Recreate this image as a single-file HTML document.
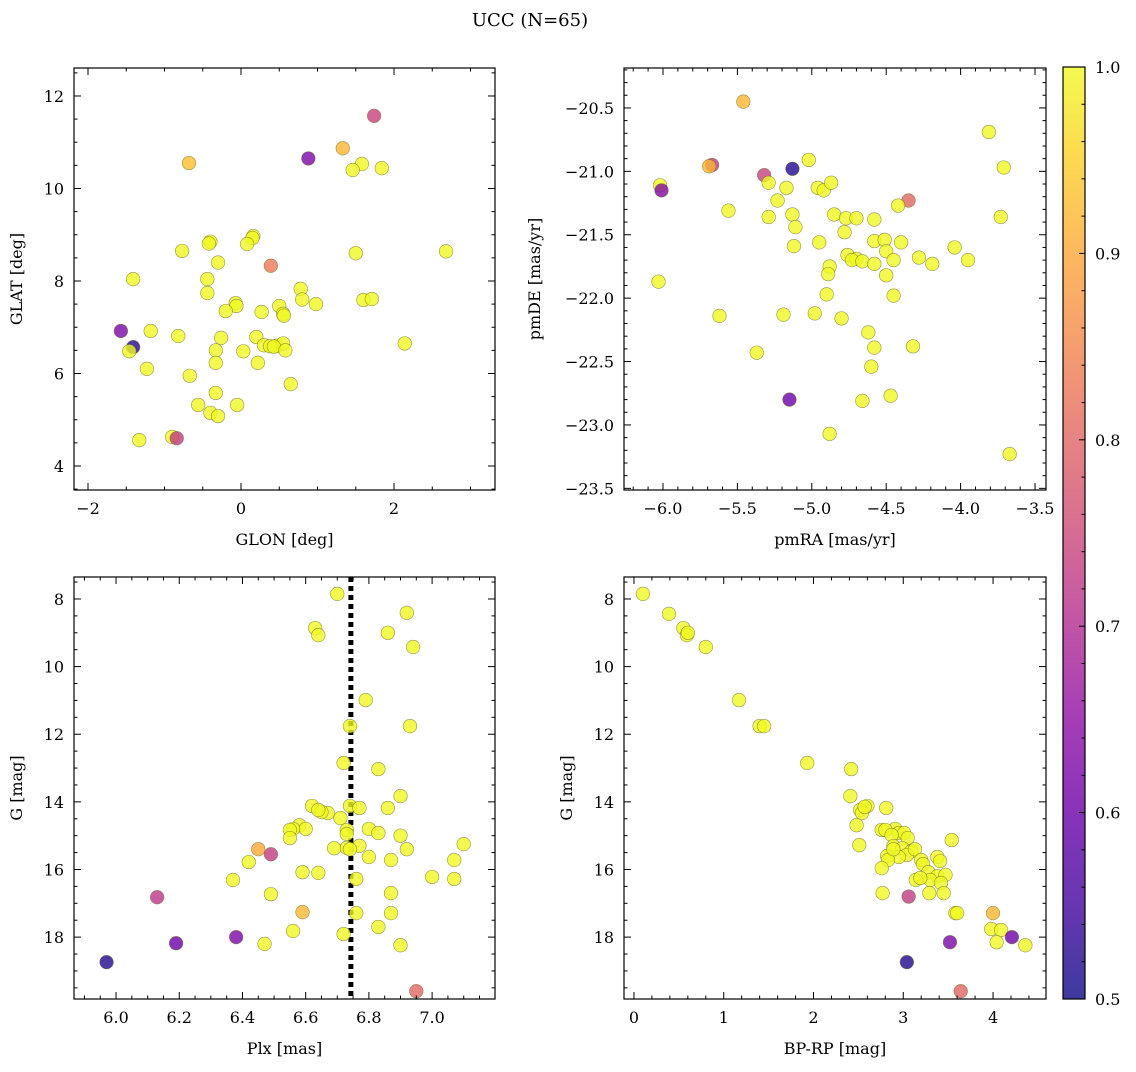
<!DOCTYPE html>
<html><head><meta charset="utf-8">
<style>
html,body{margin:0;padding:0;background:#fff;}
svg text{font-family:"DejaVu Serif","Liberation Serif",serif;fill:#000;}
</style></head>
<body>
<svg id="fig" width="1136" height="1067" viewBox="0 0 1136 1067" xmlns="http://www.w3.org/2000/svg">
<defs>
<linearGradient id="plasma" x1="0" y1="1" x2="0" y2="0">
<stop offset="0" stop-color="#0d0887"/><stop offset="0.1" stop-color="#41049d"/><stop offset="0.2" stop-color="#6a00a8"/><stop offset="0.3" stop-color="#8f0da4"/><stop offset="0.4" stop-color="#b12a90"/><stop offset="0.5" stop-color="#cc4778"/><stop offset="0.6" stop-color="#e16462"/><stop offset="0.7" stop-color="#f2844b"/><stop offset="0.8" stop-color="#fca636"/><stop offset="0.9" stop-color="#fcce25"/><stop offset="1" stop-color="#f0f921"/>
</linearGradient>
</defs>
<text x="530" y="26" font-size="18" text-anchor="middle">UCC (N=65)</text>
</svg>
<script>
// ---- data: Top-left (GLON vs GLAT) ----
const glonX=[1.74,1.33,-0.68,0.88,1.58,1.46,1.84,0.16,0.15,-0.4,-0.42,0.08,-0.77,2.68,1.5,-0.3,0.39,-1.41,-0.44,0.78,0.8,1.6,1.71,-0.44,-0.07,-0.06,0.98,0.5,0.27,-0.2,0.55,0.56,-1.57,-1.18,-0.82,-0.26,0.2,0.3,0.47,0.55,0.38,0.43,0.58,-1.41,-1.46,-0.33,0.03,2.14,0.22,-0.33,-1.23,-0.67,0.65,-0.33,-0.56,-0.05,-0.4,-0.3,-0.9,-0.84,-1.33];
const glatY=[11.57,10.87,10.55,10.65,10.53,10.4,10.44,8.97,8.93,8.85,8.81,8.8,8.65,8.64,8.6,8.4,8.33,8.04,8.04,7.83,7.6,7.59,7.61,7.74,7.52,7.46,7.5,7.46,7.33,7.35,7.29,7.25,6.92,6.92,6.81,6.77,6.79,6.61,6.6,6.65,6.59,6.58,6.5,6.57,6.48,6.5,6.48,6.65,6.23,6.23,6.1,5.95,5.77,5.58,5.32,5.32,5.15,5.08,4.63,4.6,4.56];
const glatC=[0.74,0.92,0.93,0.62,1,1,1,1,1,1,1,1,1,1,1,1,0.83,1,1,1,1,1,1,1,1,1,1,1,1,1,1,1,0.62,1,1,1,1,1,1,1,1,1,1,0.52,1,1,1,1,1,1,1,1,1,1,1,1,1,1,1,0.73,1];
// ---- Top-right (pmRA vs pmDE) ----
const pmraX=[-5.46,-3.81,-6.02,-6.01,-5.67,-5.69,-5.13,-5.02,-5.32,-5.29,-3.71,-5.17,-4.96,-4.92,-4.87,-4.35,-4.42,-5.23,-5.56,-5.29,-5.13,-4.85,-4.77,-4.7,-4.58,-3.73,-5.11,-4.78,-4.58,-4.51,-4.95,-4.4,-5.12,-4.04,-4.76,-4.7,-4.5,-4.28,-4.73,-4.66,-4.58,-4.45,-4.19,-3.95,-4.88,-4.5,-4.89,-4.9,-4.45,-6.03,-5.62,-5.19,-4.98,-4.8,-4.62,-4.58,-4.32,-5.37,-4.6,-5.15,-4.66,-4.47,-4.88,-3.67];
const pmdeY=[-20.45,-20.69,-21.11,-21.15,-20.95,-20.96,-20.98,-20.91,-21.03,-21.09,-20.97,-21.13,-21.13,-21.15,-21.09,-21.23,-21.27,-21.23,-21.31,-21.36,-21.34,-21.34,-21.37,-21.37,-21.38,-21.36,-21.44,-21.48,-21.55,-21.54,-21.56,-21.56,-21.59,-21.6,-21.66,-21.69,-21.63,-21.68,-21.7,-21.71,-21.73,-21.7,-21.73,-21.7,-21.75,-21.82,-21.81,-21.97,-21.98,-21.87,-22.14,-22.13,-22.12,-22.16,-22.27,-22.39,-22.38,-22.43,-22.54,-22.8,-22.81,-22.77,-23.07,-23.23];
const pmdeC=[0.92,1,1,0.63,0.73,0.92,0.52,1,0.74,1,1,1,1,1,1,0.8,1,1,1,1,1,1,1,1,1,1,1,1,1,1,1,1,1,1,1,1,1,1,1,1,1,1,1,1,1,1,1,1,1,1,1,1,1,1,1,1,1,1,1,0.6,1,1,1,1];
// ---- Bottom-left (Plx vs G) ----
const plxX=[6.70,6.92,6.63,6.64,6.86,6.94,6.79,6.74,6.93,6.72,6.83,6.90,6.62,6.74,6.77,6.86,6.67,6.65,6.64,6.71,6.58,6.60,6.56,6.80,6.73,6.83,6.55,6.73,6.90,6.55,7.10,6.77,6.73,6.45,6.49,6.69,6.74,6.92,6.80,6.87,6.42,7.07,6.59,6.64,7.00,6.76,7.07,6.37,6.49,6.87,6.13,6.59,6.87,6.76,6.56,6.83,6.72,6.38,6.19,6.47,6.90,5.97,6.95];
const gLeftY=[7.85,8.41,8.86,9.07,9.0,9.42,10.99,11.76,11.76,12.85,13.03,13.83,14.12,14.12,14.18,14.18,14.33,14.3,14.24,14.48,14.69,14.8,14.8,14.8,14.83,14.92,14.83,14.95,15.0,15.07,15.25,15.3,15.36,15.4,15.55,15.37,15.4,15.4,15.63,15.72,15.78,15.72,16.08,16.1,16.22,16.28,16.28,16.31,16.73,16.7,16.82,17.26,17.29,17.29,17.82,17.7,17.91,18.0,18.18,18.2,18.24,18.74,19.6];
const gLeftC=[1,1,1,1,1,1,1,1,1,1,1,1,1,1,1,1,1,1,1,1,1,1,1,1,1,1,1,1,1,1,1,1,1,0.9,0.73,1,1,1,1,1,1,1,1,1,1,1,1,1,1,1,0.72,0.92,1,1,1,1,1,0.62,0.6,1,1,0.52,0.8];
// ---- Bottom-right (BP-RP vs G) ----
const bprpX=[0.10,0.39,0.55,0.59,0.60,0.80,1.17,1.40,1.45,1.93,2.42,2.41,2.60,2.52,2.54,2.57,2.81,2.48,2.91,2.76,2.80,2.95,3.01,2.87,3.05,3.54,2.51,2.89,2.99,3.09,3.04,3.13,2.95,3.38,3.41,3.20,3.22,2.82,2.83,2.89,2.76,3.28,3.38,3.30,3.47,3.42,3.14,3.19,2.77,3.29,3.45,3.06,3.58,3.60,4.00,3.98,4.09,4.04,4.36,3.52,4.21,3.04,3.64];
const gRightY=[7.85,8.44,8.86,9.07,9.0,9.42,10.99,11.76,11.76,12.85,13.03,13.83,14.12,14.24,14.33,14.15,14.18,14.69,14.8,14.83,14.83,14.92,14.92,14.98,15.07,15.13,15.28,15.31,15.37,15.46,15.57,15.4,15.63,15.63,15.75,15.72,15.84,15.6,15.72,15.4,15.96,16.08,16.2,16.31,16.16,16.4,16.31,16.25,16.7,16.7,16.7,16.8,17.29,17.29,17.29,17.76,17.79,18.15,18.24,18.15,18.0,18.74,19.6];
const gRightC=[1,1,1,1,1,1,1,1,1,1,1,1,1,1,1,1,1,1,1,1,1,1,1,1,1,1,1,1,1,1,1,1,1,1,1,1,1,1,1,1,1,1,1,1,1,1,1,1,1,1,1,0.73,1,1,0.92,1,1,1,1,0.62,0.6,0.52,0.8];
const plxLine=6.743;
const cbTicks=[0.5,0.6,0.7,0.8,0.9,1.0];

const NS="http://www.w3.org/2000/svg";
const svg=document.getElementById('fig');
function mk(tag,attrs,parent){const e=document.createElementNS(NS,tag);for(const k in attrs)e.setAttribute(k,attrs[k]);(parent||svg).appendChild(e);return e;}
const stops=[[0,[13,8,135]],[0.1,[65,4,157]],[0.2,[106,0,168]],[0.3,[143,13,164]],[0.4,[177,42,144]],[0.5,[204,71,120]],[0.6,[225,100,98]],[0.7,[242,132,75]],[0.8,[252,166,54]],[0.9,[252,206,37]],[1,[240,249,33]]];
function plasma(c){let t=Math.max(0,Math.min(1,(c-0.5)/0.5));for(let i=0;i<stops.length-1;i++){const a=stops[i],b=stops[i+1];if(t<=b[0]){const f=(t-a[0])/(b[0]-a[0]);return 'rgb('+a[1].map((v,j)=>Math.round(v+(b[1][j]-v)*f)).join(',')+')';}}return 'rgb(240,249,33)';}
function fmt(v,d){return (v<0?'\u2212':'')+Math.abs(v).toFixed(d);}

function panel(o){
  const g=mk('g',{});
  
  
  const sx=v=>o.x0+(v-o.xmin)/(o.xmax-o.xmin)*(o.x1-o.x0);
  const sy=o.invert? v=>o.y0+(v-o.ymin)/(o.ymax-o.ymin)*(o.y1-o.y0) : v=>o.y1-(v-o.ymin)/(o.ymax-o.ymin)*(o.y1-o.y0);
  if(o.vline!==undefined){const l=mk('line',{x1:sx(o.vline),x2:sx(o.vline),y1:o.y0,y2:o.y1,stroke:'#000','stroke-width':5,'stroke-dasharray':'5,4'},g);
    
    }
  for(let i=0;i<o.xs.length;i++){
    const c=mk('circle',{cx:sx(o.xs[i]),cy:sy(o.ys[i]),r:6.8,fill:plasma(o.cs[i]),'fill-opacity':0.8,stroke:'#6b6b2a','stroke-opacity':0.7,'stroke-width':0.6},g);
    
    
  }
  const fr=mk('rect',{x:o.x0,y:o.y0,width:o.x1-o.x0,height:o.y1-o.y0,fill:'none',stroke:'#000','stroke-width':1.2},g);
  
  
  const eps=1e-6;
  for(let v=Math.ceil(o.xmin/o.xminor-eps)*o.xminor;v<=o.xmax+eps;v+=o.xminor){
    const major=Math.abs(v/o.xmajor-Math.round(v/o.xmajor))<1e-4;const L=major?7:3.5;const X=sx(v);
    mk('line',{x1:X,x2:X,y1:o.y1,y2:o.y1-L,stroke:'#000','stroke-width':1},g);
    mk('line',{x1:X,x2:X,y1:o.y0,y2:o.y0+L,stroke:'#000','stroke-width':1},g);
    if(major){const t=mk('text',{x:X,y:o.y1+24,'font-size':16,'text-anchor':'middle'},g);t.textContent=fmt(v,o.xd);
      
      }
  }
  for(let v=Math.ceil(o.ymin/o.yminor-eps)*o.yminor;v<=o.ymax+eps;v+=o.yminor){
    const major=Math.abs(v/o.ymajor-Math.round(v/o.ymajor))<1e-4;const L=major?7:3.5;const Y=sy(v);
    mk('line',{x1:o.x0,x2:o.x0+L,y1:Y,y2:Y,stroke:'#000','stroke-width':1},g);
    mk('line',{x1:o.x1,x2:o.x1-L,y1:Y,y2:Y,stroke:'#000','stroke-width':1},g);
    if(major){const t=mk('text',{x:o.x0-10,y:Y+6,'font-size':16,'text-anchor':'end'},g);t.textContent=fmt(v,o.yd);
      
      }
  }
  const xl=mk('text',{x:(o.x0+o.x1)/2,y:o.y1+55,'font-size':16,'text-anchor':'middle'},g);xl.textContent=o.xlabel;
  
  
  const yx=o.x0-o.ylabOff, yy=(o.y0+o.y1)/2;
  const yl=mk('text',{x:yx,y:yy,'font-size':16,'text-anchor':'middle',transform:'rotate(-90 '+yx+' '+yy+')'},g);yl.textContent=o.ylabel;
  
  
}

panel({name:'glon-glat-panel',x0:74,x1:495,y0:68,y1:490,xmin:-2.183,xmax:3.320,ymin:3.481,ymax:12.605,xmajor:2,xminor:0.5,ymajor:2,yminor:0.5,xd:0,yd:0,xs:glonX,ys:glatY,cs:glatC,xlabel:'GLON [deg]',ylabel:'GLAT [deg]',ylabOff:52});
panel({name:'pmra-pmde-panel',x0:624,x1:1046,y0:68,y1:490,xmin:-6.262,xmax:-3.426,ymin:-23.513,ymax:-20.185,xmajor:0.5,xminor:0.1,ymajor:0.5,yminor:0.1,xd:1,yd:1,xs:pmraX,ys:pmdeY,cs:pmdeC,xlabel:'pmRA [mas/yr]',ylabel:'pmDE [mas/yr]',ylabOff:84});
panel({name:'plx-g-panel',x0:74,x1:495,y0:577,y1:999,xmin:5.867,xmax:7.199,ymin:7.35,ymax:19.83,invert:true,xmajor:0.2,xminor:0.05,ymajor:2,yminor:0.5,xd:1,yd:0,xs:plxX,ys:gLeftY,cs:gLeftC,xlabel:'Plx [mas]',ylabel:'G [mag]',ylabOff:52,vline:plxLine});
panel({name:'bprp-g-panel',x0:624,x1:1046,y0:577,y1:999,xmin:-0.111,xmax:4.590,ymin:7.35,ymax:19.83,invert:true,xmajor:1,xminor:0.2,ymajor:2,yminor:0.5,xd:0,yd:0,xs:bprpX,ys:gRightY,cs:gRightC,xlabel:'BP-RP [mag]',ylabel:'G [mag]',ylabOff:52});

// colorbar
const cb=mk('g',{});


const cbx0=1063,cbx1=1085,cby0=67,cby1=999;
mk('rect',{x:cbx0,y:cby0,width:cbx1-cbx0,height:cby1-cby0,fill:'url(#plasma)','fill-opacity':0.8},cb);
mk('rect',{x:cbx0,y:cby0,width:cbx1-cbx0,height:cby1-cby0,fill:'none',stroke:'#000','stroke-width':1.2},cb);
const cy=v=>cby1-(v-0.5)/0.5*(cby1-cby0);
for(let k=0;k<=25;k++){const v=0.5+k*0.02;const Y=cy(v);const major=k%5===0;
  mk('line',{x1:cbx1,x2:cbx1-(major?6:3.5),y1:Y,y2:Y,stroke:'#000','stroke-width':1},cb);}
cbTicks.forEach(v=>{const t=mk('text',{x:1095,y:cy(v)+6,'font-size':16},cb);t.textContent=v.toFixed(1);
  
  });
</script>
</body></html>
